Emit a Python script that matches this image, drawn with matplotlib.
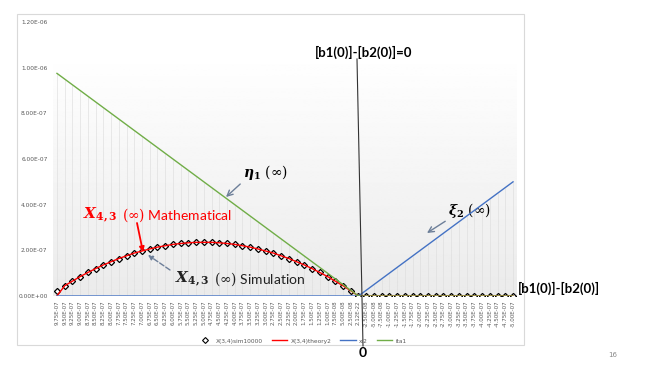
import numpy as np
import matplotlib.pyplot as plt
from matplotlib.patches import Rectangle
from matplotlib.lines import Line2D

plt.rcParams['mathtext.fontset'] = 'dejavuserif'

# category labels (x axis, b1(0) - b2(0))
x_labels = ['9.75E-07', '9.50E-07', '9.25E-07', '9.00E-07', '8.75E-07', '8.50E-07', '8.25E-07', '8.00E-07',
            '7.75E-07', '7.50E-07', '7.25E-07', '7.00E-07', '6.75E-07', '6.50E-07', '6.25E-07', '6.00E-07',
            '5.75E-07', '5.50E-07', '5.25E-07', '5.00E-07', '4.75E-07', '4.50E-07', '4.25E-07', '4.00E-07',
            '3.75E-07', '3.50E-07', '3.25E-07', '3.00E-07', '2.75E-07', '2.50E-07', '2.25E-07', '2.00E-07',
            '1.75E-07', '1.50E-07', '1.25E-07', '1.00E-07', '7.50E-08', '5.00E-08', '2.50E-08', '2.12E-22',
            '-2.50E-08', '-5.00E-08', '-7.50E-08', '-1.00E-07', '-1.25E-07', '-1.50E-07', '-1.75E-07',
            '-2.00E-07', '-2.25E-07', '-2.50E-07', '-2.75E-07', '-3.00E-07', '-3.25E-07', '-3.50E-07',
            '-3.75E-07', '-4.00E-07', '-4.25E-07', '-4.50E-07', '-4.75E-07', '-5.00E-07']

# series values, in units of 1e-7
x43_sim = [0.23, 0.45, 0.65, 0.85, 1.03, 1.20, 1.36, 1.50, 1.64, 1.76, 1.88, 1.97, 2.06, 2.14, 2.20, 2.26,
           2.30, 2.33, 2.35, 2.35, 2.35, 2.33, 2.30, 2.26, 2.20, 2.14, 2.06, 1.97, 1.88, 1.76, 1.64, 1.50,
           1.36, 1.20, 1.03, 0.85, 0.65, 0.45, 0.23, 0.00,
           0, 0, 0, 0, 0, 0, 0, 0, 0, 0, 0, 0, 0, 0, 0, 0, 0, 0, 0, 0]
x43_theory = [0.00, 0.45, 0.65, 0.85, 1.03, 1.20, 1.36, 1.50, 1.64, 1.76, 1.88, 1.97, 2.06, 2.14, 2.20, 2.26,
              2.30, 2.33, 2.35, 2.35, 2.35, 2.33, 2.30, 2.26, 2.20, 2.14, 2.06, 1.97, 1.88, 1.76, 1.64, 1.50,
              1.36, 1.20, 1.03, 0.85, 0.65, 0.45, 0.23, 0.00,
              0, 0, 0, 0, 0, 0, 0, 0, 0, 0, 0, 0, 0, 0, 0, 0, 0, 0, 0, 0]
xi2 = [0, 0, 0, 0, 0, 0, 0, 0, 0, 0, 0, 0, 0, 0, 0, 0, 0, 0, 0, 0,
       0, 0, 0, 0, 0, 0, 0, 0, 0, 0, 0, 0, 0, 0, 0, 0, 0, 0, 0, 0,
       0.25, 0.50, 0.75, 1.00, 1.25, 1.50, 1.75, 2.00, 2.25, 2.50,
       2.75, 3.00, 3.25, 3.50, 3.75, 4.00, 4.25, 4.50, 4.75, 5.00]
eta1 = [9.75, 9.50, 9.25, 9.00, 8.75, 8.50, 8.25, 8.00, 7.75, 7.50, 7.25, 7.00, 6.75, 6.50, 6.25, 6.00,
        5.75, 5.50, 5.25, 5.00, 4.75, 4.50, 4.25, 4.00, 3.75, 3.50, 3.25, 3.00, 2.75, 2.50, 2.25, 2.00,
        1.75, 1.50, 1.25, 1.00, 0.75, 0.50, 0.25, 0.00,
        0, 0, 0, 0, 0, 0, 0, 0, 0, 0, 0, 0, 0, 0, 0, 0, 0, 0, 0, 0]
y_ticks = [0, 2e-7, 4e-7, 6e-7, 8e-7, 1e-6, 1.2e-6]
y_tick_labels = ['0.00E+00', '2.00E-07', '4.00E-07', '6.00E-07', '8.00E-07', '1.00E-06', '1.20E-06']

scale = 1e-7
sim = np.array(x43_sim) * scale
theory = np.array(x43_theory) * scale
xi = np.array(xi2) * scale
eta = np.array(eta1) * scale
pos = np.arange(len(x_labels))

W, H = 664, 374
fig = plt.figure(figsize=(6.64, 3.74), dpi=100)
ax = fig.add_axes([53.1 / W, 78 / H, 463.8 / W, 274 / H])

# plot area gradient
grad = np.linspace(0.92, 1.0, 200).reshape(-1, 1)
ax.imshow(grad, cmap='gray', vmin=0, vmax=1, extent=[0, 1, 0, 0.89], transform=ax.transAxes,
          aspect='auto', origin='lower', zorder=0)

# drop lines
top = np.maximum.reduce([sim, theory, xi, eta])
ax.vlines(pos, 0, top, color='#dedede', lw=0.45, zorder=1)

ax.plot(pos, sim, ls='none', marker='D', ms=3.1, mfc='white', mec='black', mew=0.9, zorder=3,
        label='X(3,4)sim10000')
ax.plot(pos, theory, color='red', lw=1.0, zorder=4, label='X(3,4)theory2')
ax.plot(pos, xi, color='#4472c4', lw=1.0, zorder=4, label='xi2')
ax.plot(pos, eta, color='#70ad47', lw=1.0, zorder=5, label='ita1')

ax.set_xlim(-0.5, len(x_labels) - 0.5)
ax.set_ylim(0, 1.2e-6)
ax.set_xticks(pos)
ax.set_xticklabels(x_labels, rotation=90, fontsize=4, color='#595959')
ax.set_yticks(y_ticks)
ax.set_yticklabels(y_tick_labels, fontsize=4.2, color='#595959')
ax.tick_params(length=0, pad=4)
ax.tick_params(axis='x', pad=3)
for s in ax.spines.values():
    s.set_visible(False)

# chart frame
fig.patches.append(Rectangle((17 / W, 1 - 345 / H), (524 - 17) / W, (345 - 14) / H,
                             transform=fig.transFigure, fill=False, ec='#d9d9d9', lw=0.8))

# legend
handles = [Line2D([], [], ls='none', marker='D', ms=3, mfc='white', mec='black', mew=0.8),
           Line2D([], [], color='red', lw=1.0),
           Line2D([], [], color='#4472c4', lw=1.0),
           Line2D([], [], color='#70ad47', lw=1.0)]
fig.legend(handles, ['X(3,4)sim10000', 'X(3,4)theory2', 'xi2', 'ita1'], loc='center',
           bbox_to_anchor=(302 / W, 1 - 341 / H), ncol=4, frameon=False, fontsize=4.2,
           labelcolor='#595959', handlelength=2.6, columnspacing=1.5, handletextpad=0.6)

# vertical line at b1(0) - b2(0) = 0
fig.add_artist(Line2D([357 / W, 363 / W], [1 - 59 / H, 1 - 346 / H], transform=fig.transFigure,
                      color='#333333', lw=0.8))

fig.text(315 / W, 1 - 52 / H, '[b1(0)]-[b2(0)]=0', fontsize=9.5, fontweight='bold',
         family='Lato', va='center', ha='left')
fig.text(518 / W, 1 - 288 / H, '[b1(0)]-[b2(0)]', fontsize=9.5, fontweight='bold',
         family='Lato', va='center', ha='left')
fig.text(363 / W, 1 - 353 / H, '0', fontsize=10, fontweight='bold', family='Lato',
         va='center', ha='center')
fig.text(613 / W, 1 - 355 / H, '16', fontsize=5, color='#888888', va='center', ha='center')

# annotations
arrow_kw = dict(arrowstyle='->', color='#6d7f99', lw=1.0)
ax.annotate(r'$\mathbfit{\eta}_{\mathbf{1}}\ (\infty)$', xy=(226 / W, 1 - 197 / H),
            xytext=(243 / W, 1 - 172 / H), xycoords='figure fraction', textcoords='figure fraction',
            fontsize=10, va='center', ha='left',
            arrowprops=dict(arrow_kw, shrinkA=0, shrinkB=0, relpos=(0, 0)))
ax.annotate(r'$\mathbfit{\xi}_{\mathbf{2}}\ (\infty)$', xy=(427 / W, 1 - 233 / H),
            xytext=(448 / W, 1 - 210 / H), xycoords='figure fraction', textcoords='figure fraction',
            fontsize=10, va='center', ha='left',
            arrowprops=dict(arrow_kw, shrinkA=0, shrinkB=0, relpos=(0, 0)))
fig.text(83 / W, 1 - 215 / H, r'$\mathbfit{X}_{\mathbf{4,3}}$', fontsize=11, color='red',
         va='center', ha='left')
fig.text(122 / W, 1 - 215 / H, r'$(\infty)$ Mathematical', fontsize=10, color='red',
         family='Lato', va='center', ha='left')
ax.annotate('', xy=(143 / W, 1 - 252 / H), xytext=(137 / W, 1 - 223 / H),
            xycoords='figure fraction', textcoords='figure fraction',
            arrowprops=dict(arrowstyle='-|>', color='red', lw=1.3, shrinkA=0, shrinkB=0,
                            mutation_scale=7))
fig.text(175 / W, 1 - 279 / H, r'$\mathbfit{X}_{\mathbf{4,3}}$', fontsize=11, color='#222222',
         va='center', ha='left')
fig.text(214 / W, 1 - 279 / H, r'$(\infty)$ Simulation', fontsize=10, color='#222222',
         family='Lato', va='center', ha='left')
ax.annotate('', xy=(148 / W, 1 - 255 / H), xytext=(170 / W, 1 - 270 / H),
            xycoords='figure fraction', textcoords='figure fraction',
            arrowprops=dict(arrowstyle='-|>', color='#6d7f99', lw=1.0, ls='--', shrinkA=0,
                            shrinkB=0, mutation_scale=7))

fig.savefig('out.png', dpi=100)
